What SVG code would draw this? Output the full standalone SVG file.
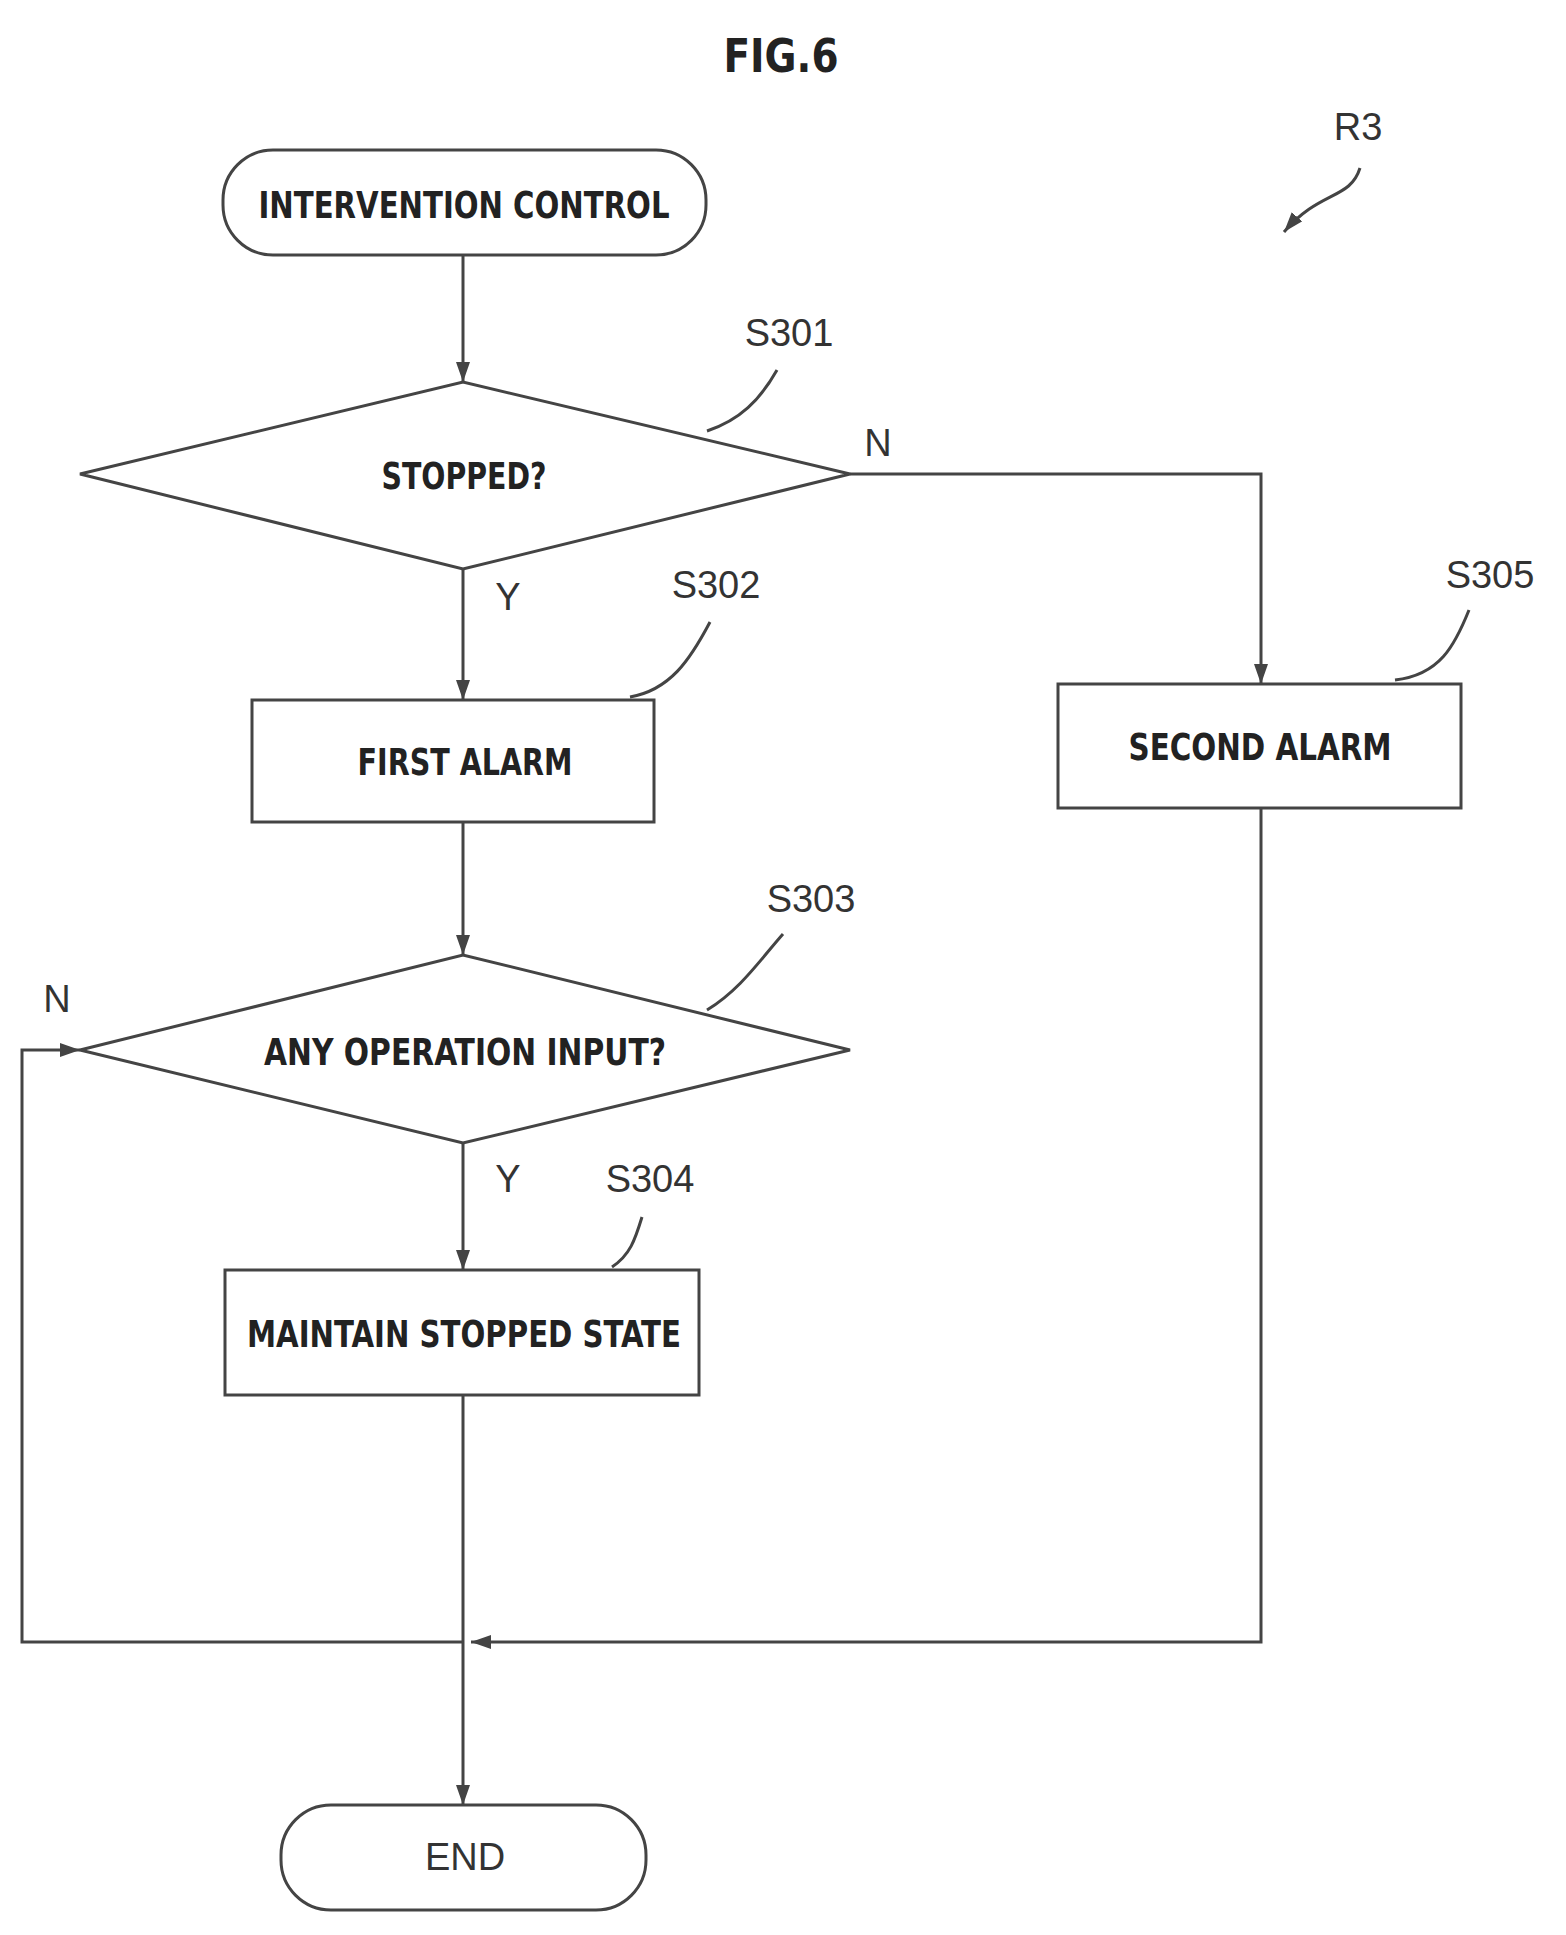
<svg xmlns="http://www.w3.org/2000/svg" width="1566" height="1935" viewBox="0 0 1566 1935">
<style>
.s{fill:none;stroke:#444;stroke-width:3}
.n{fill:#fff;stroke:#444;stroke-width:3}
.t{font-family:"DejaVu Sans Condensed","DejaVu Sans",sans-serif;font-weight:bold;font-size:38px;fill:#222;text-anchor:middle}
.l{font-family:"Liberation Sans",sans-serif;font-size:38px;fill:#333;text-anchor:middle}
</style>
<defs>
<marker id="b" markerWidth="22" markerHeight="22" refX="20" refY="11" orient="auto" markerUnits="userSpaceOnUse" viewBox="0 0 22 22"><path d="M0,4 L20,11 L0,18 Z" fill="#444"/></marker>
</defs>
<text x="781" y="72" class="t" style="font-size:46px" textLength="115" lengthAdjust="spacingAndGlyphs">FIG.6</text>
<text x="1358" y="140" class="l">R3</text>
<path class="s" d="M1360,168 C1350,200 1320,190 1284,232" marker-end="url(#b)"/>
<g id="connectors">
<path class="s" d="M463,255 V382" marker-end="url(#b)"/>
<path class="s" d="M463,569 V700" marker-end="url(#b)"/>
<path class="s" d="M850,474 H1261 V684" marker-end="url(#b)"/>
<path class="s" d="M463,822 V955" marker-end="url(#b)"/>
<path class="s" d="M463,1143 V1270" marker-end="url(#b)"/>
<path class="s" d="M463,1395 V1805" marker-end="url(#b)"/>
<path class="s" d="M463,1642 H22 V1050 H80" marker-end="url(#b)"/>
<path class="s" d="M1261,808 V1642 H471" marker-end="url(#b)"/>
<path class="s" d="M707,431 C740,420 760,400 777,370"/>
<path class="s" d="M630,697 C670,690 690,660 710,622"/>
<path class="s" d="M707,1010 C740,990 760,960 783,934"/>
<path class="s" d="M612,1267 C630,1255 635,1240 642,1217"/>
<path class="s" d="M1395,680 C1440,675 1455,645 1469,610"/>
</g>
<g id="start"><rect class="n" x="223" y="150" width="483" height="105" rx="50"/><text x="464" y="218" class="t" textLength="411" lengthAdjust="spacingAndGlyphs">INTERVENTION CONTROL</text></g>
<g id="s301"><polygon class="n" points="80,474 463,382 850,474 463,569"/><text x="464" y="489" class="t" textLength="165" lengthAdjust="spacingAndGlyphs">STOPPED?</text><text x="789" y="346" class="l">S301</text><text x="878" y="456" class="l">N</text><text x="508" y="610" class="l">Y</text></g>
<g id="s302"><rect class="n" x="252" y="700" width="402" height="122"/><text x="465" y="775" class="t" textLength="215" lengthAdjust="spacingAndGlyphs">FIRST ALARM</text><text x="716" y="598" class="l">S302</text></g>
<g id="s303"><polygon class="n" points="80,1050 463,955 850,1050 463,1143"/><text x="465" y="1065" class="t" textLength="402" lengthAdjust="spacingAndGlyphs">ANY OPERATION INPUT?</text><text x="811" y="912" class="l">S303</text><text x="57" y="1012" class="l">N</text><text x="508" y="1192" class="l">Y</text></g>
<g id="s304"><rect class="n" x="225" y="1270" width="474" height="125"/><text x="464" y="1347" class="t" textLength="434" lengthAdjust="spacingAndGlyphs">MAINTAIN STOPPED STATE</text><text x="650" y="1192" class="l">S304</text></g>
<g id="s305"><rect class="n" x="1058" y="684" width="403" height="124"/><text x="1260" y="760" class="t" textLength="263" lengthAdjust="spacingAndGlyphs">SECOND ALARM</text><text x="1490" y="588" class="l">S305</text></g>
<g id="end"><rect class="n" x="281" y="1805" width="365" height="105" rx="50"/><text x="465" y="1870" class="l">END</text></g>
</svg>
